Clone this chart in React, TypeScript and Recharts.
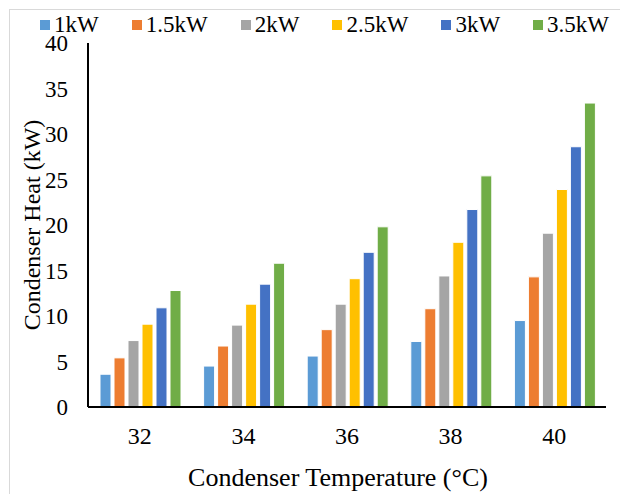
import { Bar, BarChart, Legend, XAxis, YAxis } from "recharts";

// condenser temperature (°C) on the category axis
const temps = ["32", "34", "36", "38", "40"];

// condenser heat (kW) per compressor load
const kw1 = [3.6, 4.5, 5.6, 7.2, 9.5];
const kw15 = [5.4, 6.7, 8.5, 10.8, 14.3];
const kw2 = [7.3, 9.0, 11.3, 14.4, 19.1];
const kw25 = [9.1, 11.3, 14.1, 18.1, 23.9];
const kw3 = [10.9, 13.5, 17.0, 21.7, 28.6];
const kw35 = [12.8, 15.8, 19.8, 25.4, 33.4];

const yTicks = [0, 5, 10, 15, 20, 25, 30, 35, 40];

const series = [
  { key: "k1", name: "1kW", color: "#5B9BD5", values: kw1 },
  { key: "k15", name: "1.5kW", color: "#ED7D31", values: kw15 },
  { key: "k2", name: "2kW", color: "#A5A5A5", values: kw2 },
  { key: "k25", name: "2.5kW", color: "#FFC000", values: kw25 },
  { key: "k3", name: "3kW", color: "#4472C4", values: kw3 },
  { key: "k35", name: "3.5kW", color: "#70AD47", values: kw35 },
];

const rows = temps.map((t, i) => {
  const row: Record<string, string | number> = { temp: t };
  for (const s of series) row[s.key] = s.values[i];
  return row;
});

const FONT = '"Liberation Serif", "Times New Roman", serif';

// legend keeps the series order (recharts would sort it by name)
function LegendRow() {
  return (
    <div
      style={{
        display: "flex",
        alignItems: "center",
        height: 24,
        paddingLeft: 30,
        fontFamily: FONT,
        fontSize: 23,
        lineHeight: "24px",
        color: "#000",
        whiteSpace: "nowrap",
      }}
    >
      {series.map((s) => (
        <span key={s.key} style={{ display: "flex", alignItems: "center", marginRight: 33 }}>
          <span style={{ width: 10, height: 10, background: s.color, marginRight: 4 }} />
          {s.name}
        </span>
      ))}
    </div>
  );
}

function YTitle({ viewBox }: any) {
  const cx = viewBox.x + 22;
  const cy = viewBox.y + viewBox.height / 2;
  return (
    <text
      x={cx}
      y={cy}
      transform={`rotate(-90 ${cx} ${cy})`}
      textAnchor="middle"
      dominantBaseline="central"
      fontFamily={FONT}
      fontSize={24}
      fill="#000"
    >
      Condenser Heat (kW)
    </text>
  );
}

function XTitle({ viewBox }: any) {
  return (
    <text
      x={viewBox.x + viewBox.width / 2 - 9}
      y={viewBox.y + 70}
      textAnchor="middle"
      dominantBaseline="central"
      fontFamily={FONT}
      fontSize={26}
      fill="#000"
    >
      Condenser Temperature (°C)
    </text>
  );
}

export default function App() {
  return (
    <div
      style={{
        position: "absolute",
        top: 9,
        left: 9,
        borderTop: "1px solid #d9d9d9",
        borderLeft: "1px solid #d9d9d9",
        width: 610,
        height: 484,
        background: "#fff",
      }}
    >
      <BarChart
        width={610}
        height={484}
        data={rows}
        margin={{ top: 9, right: 14, left: 0, bottom: 0 }}
        barCategoryGap={12}
        barGap={3}
        style={{ fontFamily: FONT }}
      >
        <XAxis
          dataKey="temp"
          height={87}
          tickLine={false}
          axisLine={{ stroke: "#000", strokeWidth: 2 }}
          tickMargin={14}
          tick={{ fill: "#000", fontSize: 24, fontFamily: FONT }}
          label={<XTitle />}
        />
        <XAxis xAxisId="top" dataKey="temp" orientation="top" height={0} tick={false} tickLine={false} axisLine={{ stroke: "#000", strokeWidth: 2 }} />
        <YAxis
          width={78}
          domain={[0, 40]}
          ticks={yTicks}
          interval={0}
          tickLine={false}
          axisLine={{ stroke: "#000", strokeWidth: 2 }}
          tickMargin={14}
          tick={{ fill: "#000", fontSize: 23, fontFamily: FONT }}
          label={<YTitle />}
        />
        <YAxis yAxisId="right" orientation="right" width={0} domain={[0, 40]} tick={false} tickLine={false} axisLine={{ stroke: "#000", strokeWidth: 2 }} />
        <Legend verticalAlign="top" align="left" wrapperStyle={{ top: 3, left: 0 }} content={<LegendRow />} />
        {series.map((s) => (
          <Bar
            key={s.key}
            dataKey={s.key}
            name={s.name}
            fill={s.color}
            stroke="#fff"
            strokeWidth={1}
            isAnimationActive={false}
          />
        ))}
      </BarChart>
    </div>
  );
}
